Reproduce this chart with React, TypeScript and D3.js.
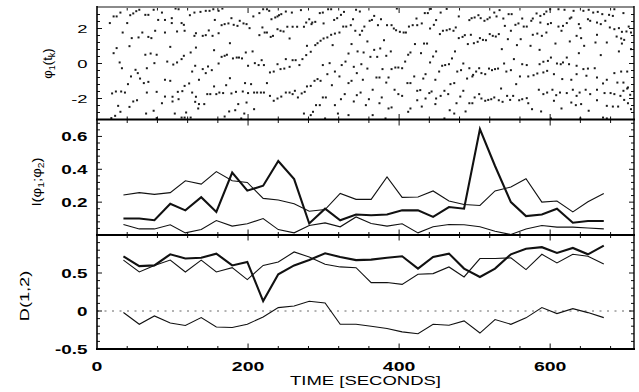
import { useEffect, useRef } from 'react';
import * as d3 from 'd3';

// sample times (s) for the windowed measures
const times = [35, 56, 76, 97, 117, 138, 158, 179, 199, 220, 240, 261, 281, 302, 322, 343, 363, 384, 404, 425, 445, 466, 486, 507, 527, 548, 568, 589, 609, 630, 650, 671];

// mutual information I(phi1;phi2)
const infoStrong = [0.10, 0.10, 0.09, 0.19, 0.15, 0.23, 0.14, 0.38, 0.27, 0.30, 0.45, 0.34, 0.07, 0.16, 0.09, 0.125, 0.12, 0.125, 0.15, 0.15, 0.11, 0.17, 0.16, 0.645, 0.42, 0.20, 0.115, 0.125, 0.16, 0.075, 0.085, 0.085];
const infoUpper = [0.243, 0.258, 0.247, 0.258, 0.33, 0.31, 0.386, 0.33, 0.32, 0.223, 0.213, 0.19, 0.145, 0.155, 0.253, 0.217, 0.217, 0.353, 0.229, 0.231, 0.268, 0.207, 0.186, 0.18, 0.268, 0.292, 0.343, 0.20, 0.207, 0.141, 0.202, 0.253];
const infoLower = [0.064, 0.037, 0.037, 0.062, 0.013, 0.033, 0.088, 0.054, 0.068, 0.10, 0.033, 0.013, 0.058, 0.074, 0.05, 0.11, 0.07, 0.054, 0.068, 0.013, 0.05, 0.064, 0.062, 0.05, 0.023, 0.003, 0.037, 0.058, 0.048, 0.048, 0.043, 0.037];

// directionality D(1,2)
const dirStrong = [0.72, 0.59, 0.60, 0.746, 0.69, 0.70, 0.755, 0.60, 0.645, 0.13, 0.483, 0.60, 0.67, 0.76, 0.71, 0.67, 0.676, 0.70, 0.72, 0.558, 0.71, 0.755, 0.558, 0.448, 0.558, 0.746, 0.82, 0.84, 0.764, 0.83, 0.746, 0.86];
const dirUpper = [0.67, 0.514, 0.60, 0.67, 0.514, 0.67, 0.514, 0.57, 0.413, 0.60, 0.645, 0.777, 0.71, 0.615, 0.58, 0.57, 0.374, 0.374, 0.35, 0.483, 0.492, 0.58, 0.448, 0.69, 0.69, 0.70, 0.545, 0.746, 0.632, 0.746, 0.72, 0.62];
const dirLower = [-0.02, -0.175, -0.065, -0.157, -0.19, -0.087, -0.21, -0.218, -0.175, -0.078, 0.045, 0.066, 0.128, 0.106, -0.175, -0.175, -0.20, -0.23, -0.275, -0.30, -0.175, -0.188, -0.13, -0.29, -0.113, -0.175, -0.09, 0.045, -0.034, 0.031, -0.021, -0.087];

// phase phi1(t_k) samples [t, phase]
const phaseA: [number, number][] = [[17,2.31],[22,2.69],[26,2.69],[31,2.91],[40,2.31],[44,2.76],[48,2.86],[52,2.99],[56,3.07],[64,2.78],[68,2.78],[75,3.07],[81,2.49],[86,2.91],[90,2.49],[99,2.59],[104,3.14],[108,3.1],[112,2.31],[115,2.21],[123,2.76],[129,2.91],[137,2.95],[99,2.31],[77,1.87],[34,1.77],[46,1.45],[55,1.49],[60,1.77],[68,1.52],[72,1.45],[90,1.77],[106,1.83],[116,1.87],[131,1.73],[129,1.58],[140,1.58],[26,0.88],[43,0.99],[22,0.59],[64,0.5],[71,0.57],[79,0.5],[97,0.95],[115,0.44],[112,0.25],[106,0.06],[124,0.63],[131,0.91],[30,0.06],[33,-0.27],[51,-0.36],[54,-0.55],[66,-0.27],[76,0.02],[93,0.11],[101,-0.06],[130,-0.13],[126,-0.46],[140,-0.32],[45,-0.74],[57,-0.86],[41,-1.18],[62,-1.12],[68,-1.05],[90,-0.93],[97,-0.99],[116,-1.28],[122,-1.14],[135,-0.93],[20,-1.71],[25,-1.6],[32,-1.6],[37,-1.66],[66,-1.66],[79,-1.62],[90,-1.89],[100,-1.9],[107,-1.62],[113,-1.58],[126,-1.66],[131,-1.9],[48,-2.17],[53,-2.1],[43,-2.48],[28,-2.42],[86,-2.27],[100,-2.17],[108,-2.04],[130,-2.19],[135,-2.32],[31,-2.76],[24,-2.99],[65,-2.86],[75,-2.7],[103,-2.86],[118,-2.8],[112,-3.09],[116,-3.09],[19,-3.12],[79,-3.12],[134,-2.57],[124,-3.09]];
const phaseB: [number, number][] = [[144,3.01],[149,3.01],[154,3.1],[161,3.01],[166,3.14],[156,2.49],[165,2.19],[169,2.25],[174,2.29],[178,2.59],[181,2.21],[186,2.15],[189,2.44],[194,2.29],[198,2.25],[202,2.02],[207,2.69],[215,2.88],[220,3.1],[225,3.1],[228,3.01],[231,2.53],[236,2.63],[239,2.69],[241,2.76],[244,2.82],[250,2.97],[258,2.91],[270,3.05],[277,2.34],[281,2.53],[284,2.25],[274,2.1],[265,2.1],[259,2.1],[252,2.1],[247,1.83],[243,1.87],[239,1.96],[233,1.58],[230,1.52],[225,1.77],[222,1.77],[215,1.62],[219,2.06],[148,1.89],[144,1.62],[153,1.58],[161,1.73],[176,1.16],[255,1.43],[278,1.01],[283,0.67],[155,0.76],[165,0.38],[169,0.44],[172,0.5],[161,0],[180,0.29],[185,0.34],[188,0.34],[192,0.29],[197,0.63],[206,0.69],[200,-0.13],[209,0.02],[214,-0.09],[218,0.19],[221,-0.09],[229,-0.51],[234,-0.46],[239,-0.04],[243,-0.32],[248,-0.29],[250,0.25],[255,-0.19],[259,0.19],[263,0.19],[268,-0.09],[272,0.25],[277,0.48],[147,-0.17],[152,-0.38],[144,-0.55],[176,-0.84],[155,-1.31],[171,-1.24],[196,-1.12],[204,-1.18],[225,-1.12],[146,-1.75],[150,-1.75],[158,-1.75],[162,-1.66],[167,-1.69],[178,-1.71],[184,-1.62],[193,-1.6],[200,-1.69],[208,-1.66],[212,-1.66],[217,-1.66],[221,-1.66],[229,-1.85],[234,-2.13],[239,-2],[244,-1.89],[250,-1.66],[255,-1.66],[259,-1.75],[262,-1.56],[266,-1.94],[271,-1.71],[275,-1.62],[278,-1.31],[283,-1.28],[142,-2.32],[187,-2.32],[198,-2.23],[175,-2.74],[183,-2.67],[169,-3.03],[195,-2.86],[191,-3.14],[208,-2.61],[274,-2.86],[283,-2.95],[286,-2.76]];
const phaseC: [number, number][] = [[285,2.34],[289,2.38],[295,2.88],[299,2.91],[306,3.1],[310,3.1],[300,2.29],[314,2.49],[318,2.59],[323,2.78],[327,2.95],[326,2.11],[330,2.11],[336,2.19],[339,2.53],[342,1.87],[348,1.64],[351,1.87],[354,2.11],[361,2.44],[364,2.49],[367,2.72],[372,2.19],[376,2.53],[384,2.19],[390,2.19],[393,2],[396,1.9],[401,1.81],[406,1.77],[409,1.77],[413,2.11],[418,2.19],[424,2.19],[423,2.57],[343,3.07],[348,2.97],[397,3.14],[289,1.05],[292,1.16],[296,1.3],[300,1.43],[305,1.49],[310,1.64],[315,1.71],[321,1.77],[312,1.05],[337,1.11],[333,0.57],[345,0.69],[353,0.63],[358,1.26],[362,0.38],[367,0.78],[371,0.38],[375,0.86],[380,1.33],[383,0.44],[389,0.69],[412,0.5],[415,0.63],[421,1.11],[299,-0.09],[308,0.02],[324,-0.09],[329,0.11],[340,-0.19],[350,-0.04],[358,-0.29],[378,-0.32],[390,-0.32],[395,-0.23],[399,-0.23],[404,-0.27],[408,0.11],[420,-0.74],[305,-0.61],[315,-0.46],[321,-0.74],[333,-1.12],[337,-0.99],[344,-0.55],[352,-0.93],[370,-0.8],[374,-0.8],[383,-1.09],[386,-0.8],[415,-1.12],[411,-1.12],[288,-0.99],[292,-0.89],[296,-0.99],[311,-1.24],[328,-1.75],[344,-1.81],[349,-1.66],[365,-1.5],[377,-1.94],[394,-1.5],[399,-1.75],[404,-1.85],[424,-1.56],[299,-1.94],[303,-1.94],[323,-2.04],[340,-2.17],[360,-2.04],[374,-2.27],[386,-2.57],[390,-2.51],[290,-2.38],[295,-2.38],[315,-2.38],[356,-2.38],[412,-2.76],[415,-2.57],[424,-2.1],[319,-2.86],[333,-2.95],[365,-2.95],[382,-3.14],[302,-3.14]];
const phaseD: [number, number][] = [[434,2.88],[438,2.88],[430,2.29],[442,3.12],[455,2.91],[463,3.12],[449,2.48],[446,2.21],[441,2],[458,1.87],[463,1.9],[467,1.96],[472,1.87],[475,2.06],[454,1.68],[479,2.69],[493,2.48],[496,2.59],[500,2.63],[505,2.76],[508,2.59],[513,2.44],[517,2.53],[520,2.63],[526,2.91],[529,2.69],[533,3.05],[538,2.57],[545,2.82],[549,2.82],[554,2.21],[558,2.29],[563,2.57],[565,2.11],[569,2.11],[548,1.87],[540,2.15],[520,1.68],[524,1.58],[528,1.54],[532,1.68],[479,1.45],[484,1.52],[487,1.62],[495,1.64],[491,1.11],[499,1.16],[504,1.24],[507,1.45],[511,1.35],[515,1.33],[544,1.39],[556,1.05],[561,1.39],[433,1.14],[437,1.14],[429,0.59],[445,0.4],[449,0.69],[474,0.69],[470,0.29],[485,0],[441,0.06],[457,-0.13],[461,-0.09],[466,-0.04],[477,-0.46],[482,-0.38],[493,-0.27],[498,-0.65],[502,-0.46],[506,-0.27],[509,-0.55],[514,-0.61],[519,-0.29],[523,-0.38],[527,-0.32],[531,-0.29],[536,0.82],[539,0],[542,-0.46],[548,-0.38],[552,0.25],[563,-0.04],[569,-0.09],[435,-0.61],[432,-0.86],[448,-0.93],[453,-0.46],[468,-1.18],[473,-1.12],[490,-0.86],[497,-0.74],[560,-0.74],[555,-1.18],[571,-0.74],[428,-1.52],[435,-2],[440,-1.69],[443,-1.6],[449,-2],[455,-1.85],[460,-1.56],[465,-1.75],[481,-1.89],[485,-1.56],[476,-2.27],[493,-2.27],[497,-2.27],[500,-1.94],[506,-1.75],[509,-2],[514,-2.13],[518,-2.08],[522,-2.04],[526,-1.94],[532,-2.1],[535,-1.43],[537,-2.19],[543,-1.85],[547,-2.08],[551,-1.85],[559,-2.1],[563,-2.04],[569,-1.98],[571,-2.27],[430,-2.46],[448,-2.32],[467,-2.67],[473,-2.86],[488,-2.74],[460,-3.14]];
const phaseE: [number, number][] = [[582,2.86],[587,2.72],[592,2.82],[595,2.97],[600,3.1],[611,3.1],[619,3.07],[631,3.01],[644,3.01],[651,3.07],[657,2.91],[663,2.95],[669,2.82],[678,2.78],[683,2.72],[685,3.1],[697,2.88],[575,2.44],[577,2.57],[587,2.34],[597,2.25],[601,2.31],[611,2.11],[617,2.15],[622,2.31],[626,2.57],[628,2.63],[638,2.25],[640,2.02],[650,2.53],[653,2.44],[662,2.34],[667,2.25],[673,2.44],[679,2.06],[685,1.96],[691,2.02],[701,1.83],[695,1.81],[704,2.11],[577,1.64],[583,1.71],[589,1.58],[595,1.77],[615,1.87],[626,1.26],[635,1.58],[641,1.45],[662,1.64],[675,1.2],[688,1.54],[694,1.43],[698,1.35],[707,1.77],[574,1.01],[586,0.78],[607,1.14],[638,0.59],[645,1.01],[660,1.2],[667,0.48],[691,0.69],[695,1.14],[707,0.82],[586,-0.04],[591,0.1],[597,0.15],[601,0.34],[609,0],[614,-0.04],[617,0.06],[622,0.34],[625,-0.04],[635,-0.13],[644,-0.32],[650,-0.29],[659,-0.27],[662,-0.8],[670,-1.14],[675,-0.93],[685,-0.55],[694,-0.46],[702,-0.46],[578,-0.67],[583,-0.57],[591,-0.51],[596,-0.42],[605,-0.61],[616,-0.89],[628,-0.93],[635,-0.61],[648,-0.7],[689,-1.09],[697,-1.09],[702,-1.43],[585,-1.5],[591,-1.75],[596,-1.66],[603,-1.5],[608,-1.81],[613,-1.66],[622,-1.69],[630,-1.5],[635,-1.85],[639,-1.66],[647,-1.5],[653,-1.75],[662,-1.5],[672,-1.69],[680,-1.69],[685,-1.75],[693,-1.85],[697,-1.56],[703,-1.37],[706,-1.79],[576,-2.61],[588,-2.74],[605,-2.13],[615,-2.57],[628,-2.23],[634,-2.38],[641,-2.32],[651,-2.7],[662,-2.1],[675,-2.42],[683,-2.46],[690,-2.46],[698,-2.08],[703,-2.27],[707,-2.61],[670,-3.09],[675,-3.14],[601,-3.14],[640,-3.14]];

const timeTickLabels = [0, 200, 400, 600];
const phaseTickLabels = [-2, 0, 2];
const infoTickLabels = [0.2, 0.4, 0.6];
const dirTickLabels = [-0.5, 0, 0.5];

const FONT = "'Liberation Sans', Arial, Helvetica, sans-serif";

export default function App() {
  const ref = useRef<SVGSVGElement>(null);

  useEffect(() => {
    if (!ref.current) return;
    const svg = d3.select(ref.current);
    svg.selectAll('*').remove();

    const left = 97;
    const right = 634;
    const x = d3.scaleLinear().domain([0, 711]).range([left, right]);

    const panels = [
      { y: d3.scaleLinear().domain([-3.2, 3.2]).range([119.5, 7.5]), minor: 0.4, major: 2, labels: phaseTickLabels, bold: false },
      { y: d3.scaleLinear().domain([0, 0.7]).range([235, 120]), minor: 0.04, major: 0.2, labels: infoTickLabels, bold: true },
      { y: d3.scaleLinear().domain([-0.5, 1]).range([349, 235]), minor: 0.1, major: 0.5, labels: dirTickLabels, bold: true },
    ];

    // phase dots
    const py = panels[0].y;
    const dots = [...phaseA, ...phaseB, ...phaseC, ...phaseD, ...phaseE];
    svg.append('g')
      .selectAll('rect')
      .data(dots)
      .enter()
      .append('rect')
      .attr('x', (d) => x(d[0]) - 1)
      .attr('y', (d) => py(d[1]) - 1)
      .attr('width', 2)
      .attr('height', 2)
      .attr('fill', '#1c1c1c');

    const drawLine = (vals: number[], yS: d3.ScaleLinear<number, number>, w: number) => {
      const line = d3.line<number>().x((_, i) => x(times[i])).y((v) => yS(v));
      svg.append('path')
        .attr('d', line(vals) ?? '')
        .attr('fill', 'none')
        .attr('stroke', '#111')
        .attr('stroke-width', w)
        .attr('stroke-linejoin', 'miter');
    };

    // zero reference in D panel
    const dy = panels[2].y;
    svg.append('line')
      .attr('x1', left).attr('x2', right)
      .attr('y1', dy(0)).attr('y2', dy(0))
      .attr('stroke', '#666')
      .attr('stroke-width', 1)
      .attr('stroke-dasharray', '2,5.5');

    drawLine(infoUpper, panels[1].y, 1.1);
    drawLine(infoLower, panels[1].y, 1.1);
    drawLine(infoStrong, panels[1].y, 2.1);
    drawLine(dirUpper, dy, 1.1);
    drawLine(dirLower, dy, 1.1);
    drawLine(dirStrong, dy, 2.1);

    // ticks on all four sides of every panel
    const stepVals = (lo: number, hi: number, step: number) =>
      d3.range(Math.ceil(lo / step + 1e-6), Math.floor(hi / step - 1e-6) + 1).map((k) => k * step);
    const isMajor = (v: number, m: number) => Math.abs(v / m - Math.round(v / m)) < 1e-6;
    const tickG = svg.append('g').attr('stroke', '#111').attr('stroke-width', 1);
    const xt = stepVals(0, 711, 40);
    panels.forEach((p) => {
      const [yb, yt] = p.y.range();
      xt.forEach((v) => {
        const len = isMajor(v, 200) ? 5.5 : 3;
        tickG.append('line').attr('x1', x(v)).attr('x2', x(v)).attr('y1', yb).attr('y2', yb - len);
        tickG.append('line').attr('x1', x(v)).attr('x2', x(v)).attr('y1', yt).attr('y2', yt + len);
      });
      const [d0, d1] = p.y.domain();
      stepVals(d0, d1, p.minor).forEach((v) => {
        const len = isMajor(v, p.major) ? 5 : 3;
        tickG.append('line').attr('x1', left).attr('x2', left + len).attr('y1', p.y(v)).attr('y2', p.y(v));
        tickG.append('line').attr('x1', right).attr('x2', right - len).attr('y1', p.y(v)).attr('y2', p.y(v));
      });
    });

    // frames
    const frame = svg.append('g').attr('fill', 'none');
    frame.append('line').attr('x1', left).attr('x2', right).attr('y1', 7).attr('y2', 7).attr('stroke', '#8a8a8a').attr('stroke-width', 2);
    [119.5, 235, 349].forEach((yy) => {
      frame.append('line').attr('x1', left - 1).attr('x2', right + 1).attr('y1', yy).attr('y2', yy).attr('stroke', '#000').attr('stroke-width', 2);
    });
    frame.append('line').attr('x1', left).attr('x2', left).attr('y1', 6).attr('y2', 350).attr('stroke', '#000').attr('stroke-width', 1.6);
    frame.append('line').attr('x1', right).attr('x2', right).attr('y1', 6).attr('y2', 350).attr('stroke', '#000').attr('stroke-width', 1.4);

    // tick labels
    const txt = (tx: number, ty: number, s: string, size: number, bold: boolean, anchor: string, sx: number) =>
      svg.append('text')
        .attr('transform', `translate(${tx},${ty}) scale(${sx},1)`)
        .attr('text-anchor', anchor)
        .attr('font-family', FONT)
        .attr('font-size', size)
        .attr('font-weight', bold ? 'bold' : 'normal')
        .attr('fill', '#000')
        .text(s);

    panels.forEach((p) => {
      p.labels.forEach((v) => {
        if (p.bold) txt(87.5, p.y(v) + 4.6, String(v), 13, true, 'end', 1.45);
        else txt(87.5, p.y(v) + 4, String(v), 11.5, false, 'end', 1.6);
      });
    });
    timeTickLabels.forEach((v) => txt(x(v), 370.5, String(v), 13, true, 'middle', 1.5));
    txt((left + right) / 2, 385, 'TIME [SECONDS]', 12.5, false, 'middle', 1.48);

    // rotated axis titles
    const ytitle = (cx: number, cy: number, sx: number, parts: [string, boolean][]) => {
      const t = svg.append('text')
        .attr('transform', `translate(${cx},${cy}) rotate(-90) scale(${sx},1)`)
        .attr('text-anchor', 'middle')
        .attr('font-family', FONT)
        .attr('font-size', 13)
        .attr('fill', '#000');
      let shifted = false;
      parts.forEach(([s, sub]) => {
        const ts = t.append('tspan').text(s);
        if (sub && !shifted) { ts.attr('font-size', 9).attr('dy', 3); shifted = true; }
        else if (!sub && shifted) { ts.attr('dy', -3); shifted = false; }
        else if (sub) ts.attr('font-size', 9);
      });
    };
    ytitle(52, 63.5, 1.0, [['φ', false], ['1', true], ['(t', false], ['k', true], [')', false]]);
    ytitle(41, 182, 1.15, [['I(φ', false], ['1', true], [';φ', false], ['2', true], [')', false]]);
    ytitle(29, 296, 1.4, [['D(1,2)', false]]);
  }, []);

  return (
    <svg
      ref={ref}
      width={639}
      height={392}
      style={{ position: 'absolute', left: 0, top: 0, background: '#fff' }}
    />
  );
}
